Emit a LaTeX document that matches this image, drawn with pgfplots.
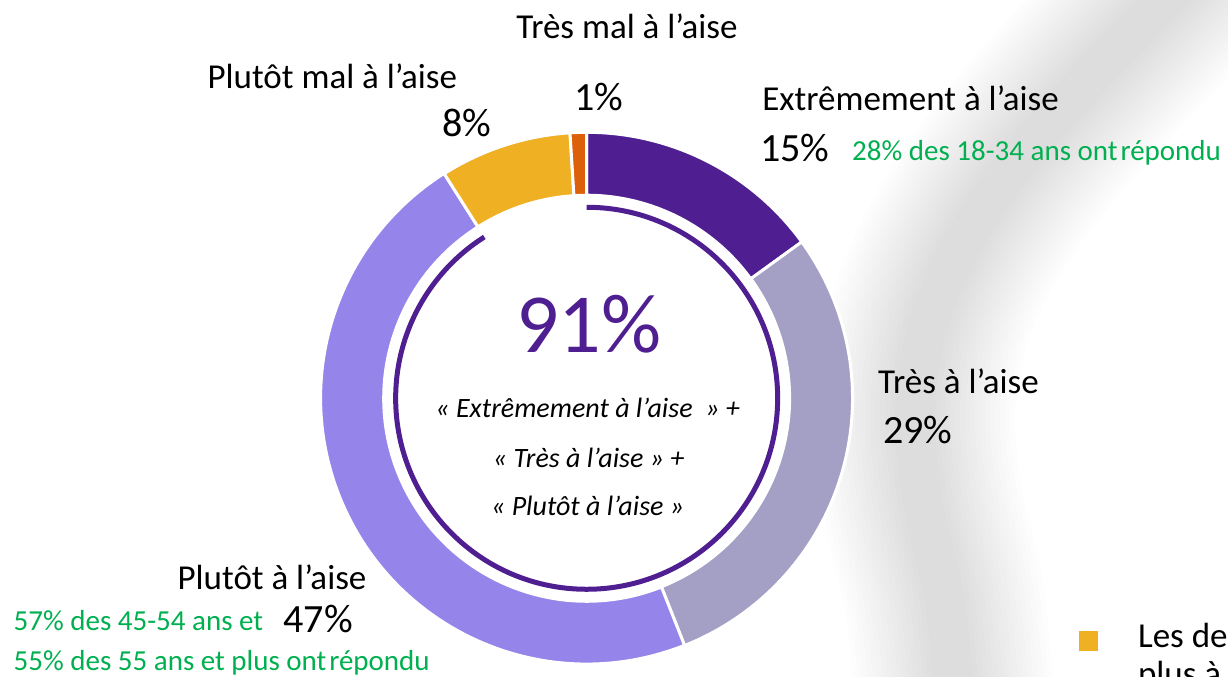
\documentclass[border=0pt]{standalone}
\usepackage{pgfplots}
\pgfplotsset{compat=1.18}
\usepackage{pgfplotstable}
\usepackage{fontspec}
\setmainfont{Carlito}
\definecolor{cA}{HTML}{4F1F91}
\definecolor{cB}{HTML}{A49FC4}
\definecolor{cC}{HTML}{9584EA}
\definecolor{cD}{HTML}{F0B023}
\definecolor{cE}{HTML}{DC5F0A}
\definecolor{gr}{HTML}{00B050}
\pgfplotstableread{
label value
Extremement 15
Tres 29
Plutot 47
PlutotMal 8
TresMal 1
}\donutdata
\newcommand\lab{\fontsize{9.96pt}{12pt}\selectfont}
\newcommand\pct{\fontsize{11.4pt}{13pt}\selectfont}
\newcommand\grn{\fontsize{8.25pt}{10pt}\selectfont\color{gr}}
\newcommand\ctr{\fontsize{7.97pt}{10pt}\selectfont\itshape}
\newcommand\seg[3]{\fill[#1, draw=white, line width=0.03cm] (axis cs:{587+266*cos(#2)},{278+266*sin(#2)}) arc[start angle=#2, end angle=#3, radius=2.66cm] -- (axis cs:{587+203*cos(#3)},{278+203*sin(#3)}) arc[start angle=#3, end angle=#2, radius=2.03cm] -- cycle;}
\begin{document}
\begin{tikzpicture}
\useasboundingbox (0,0) rectangle (12.28,6.76);
\clip (0,0) rectangle (12.28,6.76);
\fill[white] (0,0) rectangle (12.28,6.76);
% background swoosh (pixel coordinates, y downwards)
\begin{scope}[x=0.01cm, y=-0.01cm, yshift=6.76cm]
\foreach \w in {200,190,...,40}{
  \draw[black, opacity=0.0065, line width=\w*0.01cm, line cap=round]
    plot[smooth, tension=0.6] coordinates {(1190,-25) (1070,100) (990,200) (937,300) (916,400) (923,500) (945,600) (955,700)};
}
\fill[cD] (1080,631) rectangle (1099,651);
\end{scope}
\pgfplotstablegetelem{0}{value}\of\donutdata \pgfmathsetmacro\vA{\pgfplotsretval}
\pgfplotstablegetelem{1}{value}\of\donutdata \pgfmathsetmacro\vB{\pgfplotsretval}
\pgfplotstablegetelem{2}{value}\of\donutdata \pgfmathsetmacro\vC{\pgfplotsretval}
\pgfplotstablegetelem{3}{value}\of\donutdata \pgfmathsetmacro\vD{\pgfplotsretval}
\pgfplotstablegetelem{4}{value}\of\donutdata \pgfmathsetmacro\vE{\pgfplotsretval}
\pgfmathsetmacro\aA{90}
\pgfmathsetmacro\aB{\aA-3.6*\vA}
\pgfmathsetmacro\aC{\aB-3.6*\vB}
\pgfmathsetmacro\aD{\aC-3.6*\vC}
\pgfmathsetmacro\aE{\aD-3.6*\vD}
\pgfmathsetmacro\aF{\aE-3.6*\vE}
\begin{axis}[at={(0,0)}, anchor=origin, x=0.01cm, y=0.01cm,
  xmin=0, xmax=1228, ymin=0, ymax=676, hide axis, clip=false]
\seg{cA}{\aA}{\aB}
\seg{cB}{\aB}{\aC}
\seg{cC}{\aC}{\aD}
\seg{cD}{\aD}{\aE}
\seg{cE}{\aE}{\aF}
\draw[cA, line width=0.05cm] (axis cs:587,469) arc[start angle=90, end angle=\aD, radius=1.91cm];
% labels
\node[anchor=base west, inner sep=0] at (axis cs:516,638) {\lab Très mal à l’aise};
\node[anchor=base west, inner sep=0] at (axis cs:574,566) {\pct 1\%};
\node[anchor=base west, inner sep=0] at (axis cs:207,588) {\lab Plutôt mal à l’aise};
\node[anchor=base west, inner sep=0] at (axis cs:442,540) {\pct 8\%};
\node[anchor=base west, inner sep=0] at (axis cs:762,566) {\lab Extrêmement à l’aise};
\node[anchor=base west, inner sep=0] at (axis cs:760,515) {\pct 15\%};
\node[anchor=base west, inner sep=0] at (axis cs:852,516) {\grn 28\% des 18-34 ans ont\kern0.1em répondu};
\node[anchor=base west, inner sep=0] at (axis cs:878,283) {\lab Très à l’aise};
\node[anchor=base west, inner sep=0] at (axis cs:883,233) {\pct 29\%};
\node[anchor=base west, inner sep=0] at (axis cs:177,87) {\lab Plutôt à l’aise};
\node[anchor=base west, inner sep=0] at (axis cs:13,46) {\grn 57\% des 45-54 ans et};
\node[anchor=base west, inner sep=0] at (axis cs:283,44) {\pct 47\%};
\node[anchor=base west, inner sep=0] at (axis cs:13,6) {\grn 55\% des 55 ans et plus ont\kern0.1em répondu};
\node[anchor=base, inner sep=0, text=cA] at (axis cs:589,324) {\fontsize{23.9pt}{28pt}\selectfont 91\%};
\node[anchor=base, inner sep=0] at (axis cs:588,259) {\ctr « Extrêmement à l’aise\ \ » +};
\node[anchor=base, inner sep=0] at (axis cs:589,209) {\ctr « Très à l’aise » +};
\node[anchor=base, inner sep=0] at (axis cs:588,161) {\ctr « Plutôt à l’aise »};
\node[anchor=base west, inner sep=0] at (axis cs:1138,29) {\lab Les deux};
\node[anchor=base west, inner sep=0] at (axis cs:1138,-10) {\lab plus à};
\end{axis}
\end{tikzpicture}
\end{document}
